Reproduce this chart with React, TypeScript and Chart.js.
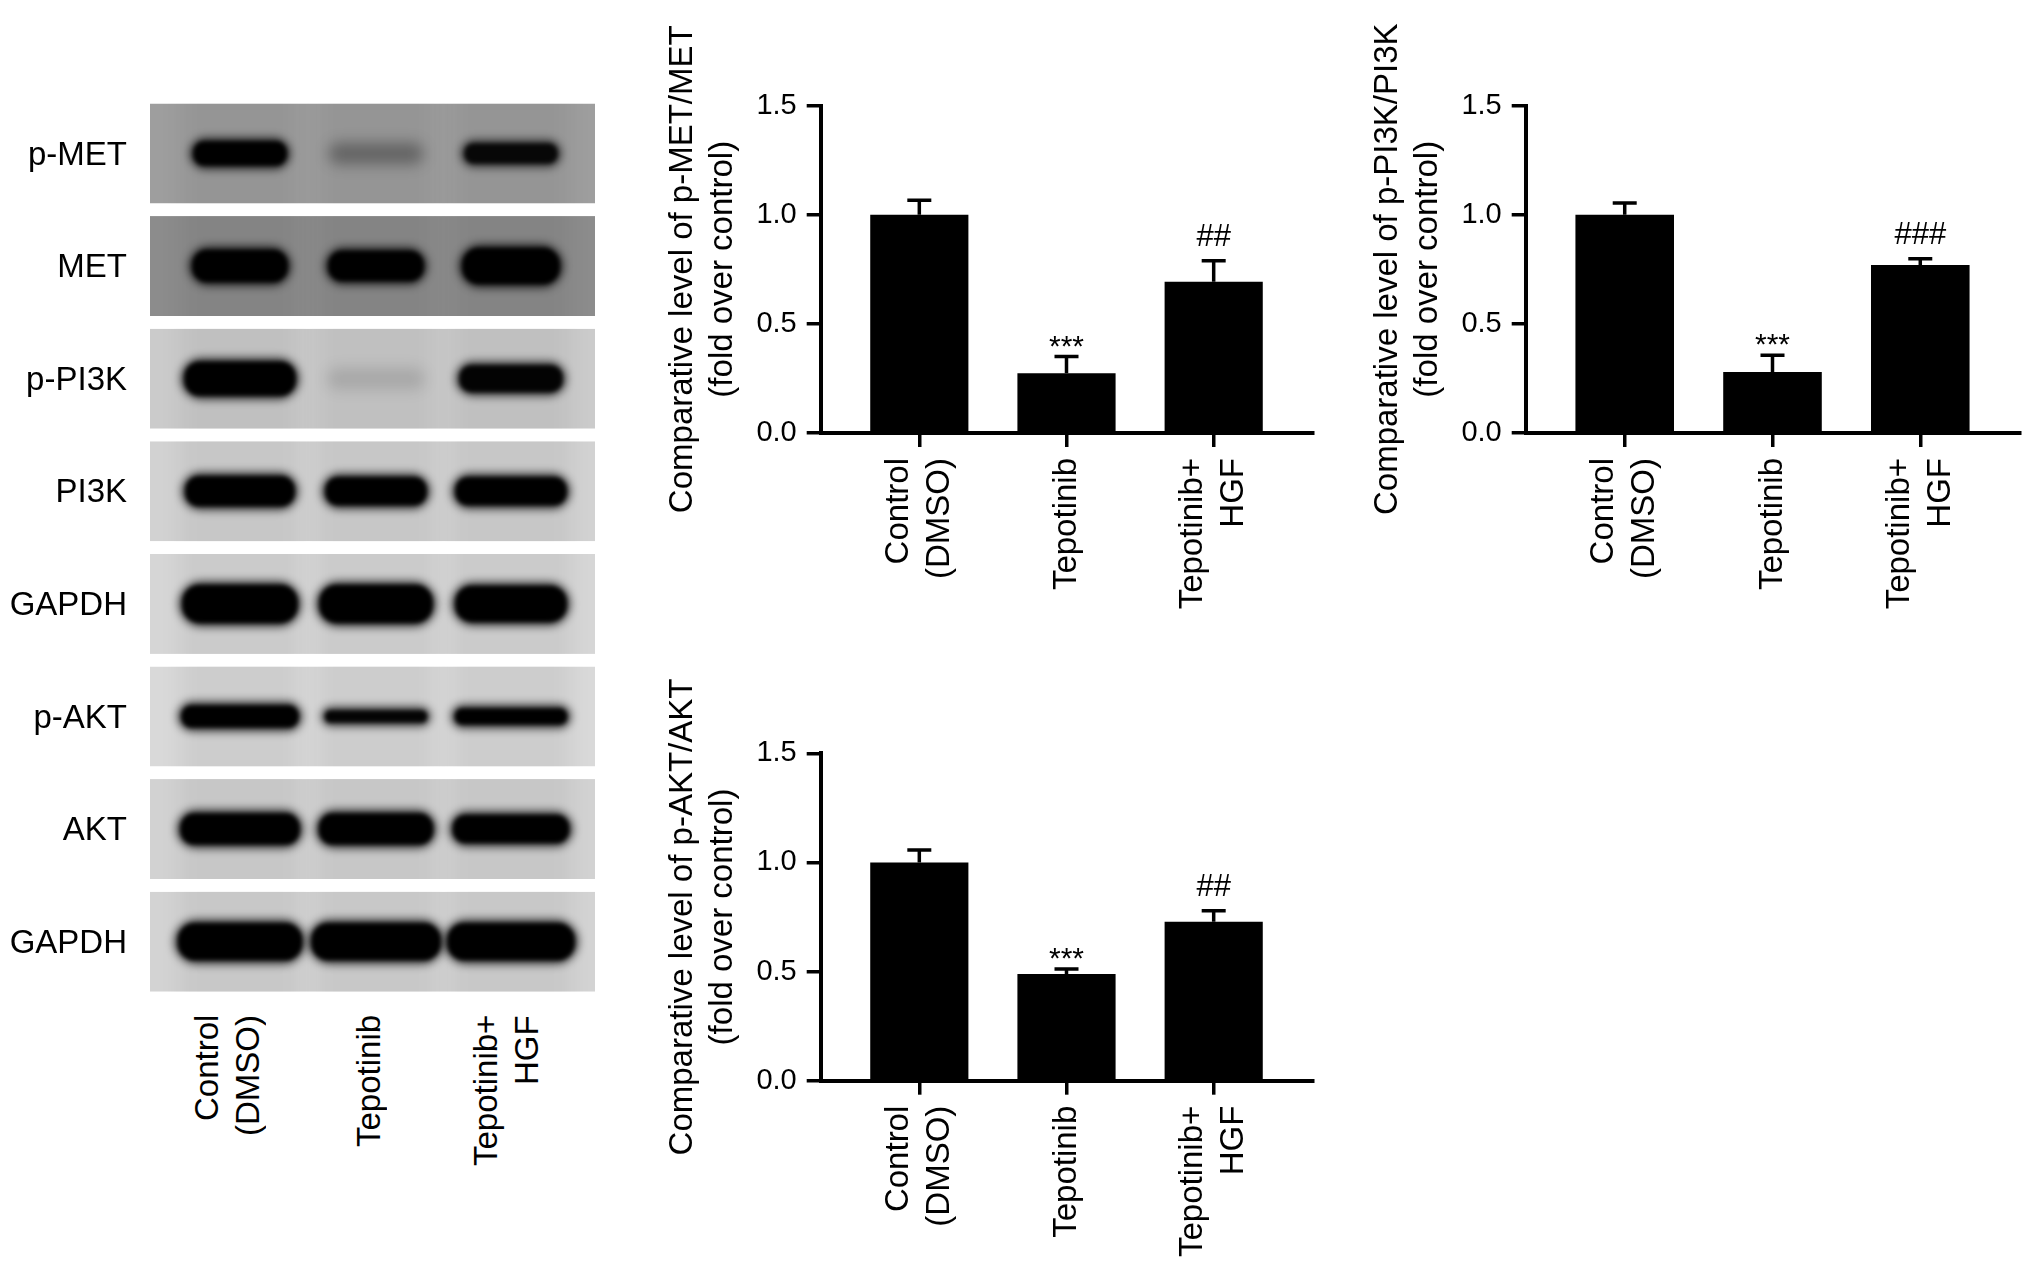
import React, { useEffect, useRef } from "react";
import { Chart, registerables } from "chart.js";

Chart.register(...registerables);

const FONT = '"Liberation Sans", Arial, Helvetica, sans-serif';

// ---------- data ----------
const CATEGORIES: string[][] = [["Control", "(DMSO)"], ["Tepotinib"], ["Tepotinib+", "HGF"]];
const Y_TICKS = [0, 0.5, 1.0, 1.5];

const TITLE_PMET = ["Comparative level of p-MET/MET", "(fold over control)"];
const PMET_MEAN = [1.0, 0.274, 0.693];
const PMET_SEM = [0.066, 0.076, 0.096];
const PMET_MARKS = ["", "***", "##"];

const TITLE_PPI3K = ["Comparative level of p-PI3K/PI3K", "(fold over control)"];
const PPI3K_MEAN = [1.0, 0.279, 0.77];
const PPI3K_SEM = [0.054, 0.077, 0.028];
const PPI3K_MARKS = ["", "***", "###"];

const TITLE_PAKT = ["Comparative level of p-AKT/AKT", "(fold over control)"];
const PAKT_MEAN = [1.0, 0.489, 0.728];
const PAKT_SEM = [0.057, 0.023, 0.051];
const PAKT_MARKS = ["", "***", "##"];

const BLOT_LABELS = ["p-MET", "MET", "p-PI3K", "PI3K", "GAPDH", "p-AKT", "AKT", "GAPDH"];
const BLOT_LEVELS = [
  [1, 0.32, 0.88],
  [1, 1, 1],
  [1, 0.12, 0.95],
  [1, 1, 1],
  [1, 1, 1],
  [1, 0.95, 1],
  [1, 1, 1],
  [1, 1, 1],
];

// ---------- styles ----------
const LABEL_SIZE = 33;
const LABEL_LH = 41;
const BLOT_BG = ["#9e9e9e", "#8c8c8c", "#cbcbcb", "#d2d2d2", "#d6d6d6", "#d9d9d9", "#d2d2d2", "#d3d3d3"];
const BAND_W = [
  [93, 87, 93],
  [95, 95, 97],
  [111, 90, 103],
  [109, 101, 111],
  [115, 113, 111],
  [117, 102, 112],
  [119, 114, 116],
  [124, 129, 127],
];
const BAND_H = [
  [24, 14, 20],
  [32, 30, 36],
  [34, 14, 27],
  [30, 28, 28],
  [38, 38, 36],
  [22, 12, 16],
  [31, 31, 28],
  [37, 37, 37],
];
const LANE_X = [240, 376, 511];
const LANE_LABEL_X = [227, 368, 506];
const PANEL_LEFT = 150;
const PANEL_RIGHT = 595;
const PANEL_TOP0 = 103.5;
const PANEL_STEP = 112.6;
const PANEL_H = 100;

type PanelProps = {
  left: number;
  top: number;
  width: number;
  height: number;
  padTop: number;
  areaBottom: number;
  padRight: number;
  yWidth: number;
  title: string[];
  means: number[];
  sems: number[];
  marks: string[];
};

function BarPanel(p: PanelProps) {
  const ref = useRef<HTMLCanvasElement>(null);
  useEffect(() => {
    const canvas = ref.current;
    if (!canvas) return;
    const errPlugin = {
      id: "errAndMarks",
      afterDatasetsDraw(chart: any) {
        const ctx = chart.ctx;
        const meta = chart.getDatasetMeta(0);
        const ys = chart.scales.y;
        ctx.save();
        ctx.strokeStyle = "#000";
        ctx.lineWidth = 3.5;
        meta.data.forEach((bar: any, i: number) => {
          const top = ys.getPixelForValue(p.means[i] + p.sems[i]);
          ctx.beginPath();
          ctx.moveTo(bar.x, bar.y);
          ctx.lineTo(bar.x, top);
          ctx.moveTo(bar.x - 12, top);
          ctx.lineTo(bar.x + 12, top);
          ctx.stroke();
          const mark = p.marks[i];
          if (mark) {
            const star = mark.charAt(0) === "*";
            ctx.font = `${star ? 30 : 31}px ${FONT}`;
            ctx.fillStyle = "#000";
            ctx.textAlign = "center";
            ctx.textBaseline = "alphabetic";
            ctx.fillText(mark, bar.x, top - (star ? 1 : 14.5));
          }
        });
        ctx.restore();
      },
    };
    const axisGrid = {
      display: true,
      drawOnChartArea: false,
      drawTicks: true,
      tickLength: 14,
      lineWidth: 3.5,
      color: "#000",
      offset: false,
    };
    const axisBorder = { display: true, width: 4, color: "#000" };
    const chart = new Chart(canvas, {
      type: "bar",
      data: {
        datasets: [
          {
            data: p.means.map((m, i) => ({ x: i, y: m })),
            backgroundColor: "#000",
            borderWidth: 0,
            barPercentage: 1,
            categoryPercentage: 0.667,
          } as any,
        ],
      },
      options: {
        animation: false,
        responsive: false,
        maintainAspectRatio: false,
        layout: { padding: { top: p.padTop, right: p.padRight, left: 0, bottom: 0 } },
        plugins: { legend: { display: false }, tooltip: { enabled: false } },
        scales: {
          x: {
            type: "linear",
            offset: false,
            min: -0.67,
            max: 2.67,
            afterBuildTicks: (s: any) => {
              s.ticks = CATEGORIES.map((_, i) => ({ value: i }));
            },
            afterFit: (s: any) => {
              s.height = p.height - p.areaBottom;
            },
            grid: axisGrid,
            border: axisBorder,
            ticks: {
              autoSkip: false,
              minRotation: 90,
              maxRotation: 90,
              padding: 11,
              labelOffset: -LABEL_LH / 2,
              color: "#000",
              font: (ctx: any) => {
                const c = CATEGORIES[ctx.index];
                const lh = c && c.length === 1 ? LABEL_LH / 2 : LABEL_LH;
                return { family: FONT, size: LABEL_SIZE, lineHeight: lh / LABEL_SIZE };
              },
              callback: (v: any) => {
                const lines = CATEGORIES[Number(v)] || [];
                return lines.length === 1 ? ["", lines[0]] : lines;
              },
            },
          } as any,
          y: {
            type: "linear",
            min: 0,
            max: 1.5,
            afterBuildTicks: (s: any) => {
              s.ticks = Y_TICKS.map((v) => ({ value: v }));
            },
            afterFit: (s: any) => {
              s.width = p.yWidth;
            },
            grid: axisGrid,
            border: axisBorder,
            ticks: {
              padding: 10,
              color: "#000",
              font: { family: FONT, size: 29 },
              callback: (v: any) => Number(v).toFixed(1),
            },
            title: {
              display: true,
              text: p.title,
              color: "#000",
              font: { family: FONT, size: 33, lineHeight: 1.22 },
              padding: { top: 23, bottom: 0 },
            },
          } as any,
        },
      },
      plugins: [errPlugin],
    });
    return () => chart.destroy();
  }, []);
  return (
    <canvas
      ref={ref}
      width={p.width}
      height={p.height}
      style={{ position: "absolute", left: p.left, top: p.top, width: p.width, height: p.height }}
    />
  );
}

function Blot() {
  const ref = useRef<HTMLCanvasElement>(null);
  useEffect(() => {
    const canvas = ref.current;
    if (!canvas) return;
    const ctx = canvas.getContext("2d") as CanvasRenderingContext2D;
    ctx.clearRect(0, 0, canvas.width, canvas.height);
    BLOT_LABELS.forEach((_, r) => {
      const top = PANEL_TOP0 + r * PANEL_STEP;
      const w = PANEL_RIGHT - PANEL_LEFT;
      ctx.save();
      ctx.beginPath();
      ctx.rect(PANEL_LEFT, top, w, PANEL_H);
      ctx.clip();
      ctx.fillStyle = BLOT_BG[r];
      ctx.fillRect(PANEL_LEFT, top, w, PANEL_H);
      LANE_X.forEach((cx) => {
        ctx.save();
        ctx.filter = "blur(10px)";
        ctx.fillStyle = "rgba(0,0,0,0.05)";
        ctx.fillRect(cx - 60, top - 20, 120, PANEL_H + 40);
        ctx.restore();
      });
      LANE_X.forEach((cx, l) => {
        const lvl = BLOT_LEVELS[r][l];
        const bw = BAND_W[r][l];
        const bh = BAND_H[r][l];
        const cy = top + PANEL_H / 2;
        ctx.save();
        ctx.filter = `blur(${lvl < 0.5 ? 7 : 4}px)`;
        ctx.fillStyle = `rgba(0,0,0,${lvl < 0.5 ? lvl : Math.min(1, lvl * 0.7)})`;
        ctx.beginPath();
        (ctx as any).roundRect(cx - bw / 2 - 4, cy - bh / 2 - 4, bw + 8, bh + 8, (bh + 8) / 2);
        ctx.fill();
        if (lvl >= 0.5) {
          ctx.filter = "blur(2px)";
          ctx.fillStyle = `rgba(0,0,0,${lvl})`;
          ctx.beginPath();
          (ctx as any).roundRect(cx - bw / 2, cy - bh / 2, bw, bh, bh / 2.2);
          ctx.fill();
        }
        ctx.restore();
      });
      ctx.restore();
    });
  }, []);
  return (
    <>
      <canvas
        ref={ref}
        width={620}
        height={1010}
        style={{ position: "absolute", left: 0, top: 0, width: 620, height: 1010 }}
      />
      {BLOT_LABELS.map((name, r) => (
        <div
          key={"bl" + r}
          style={{
            position: "absolute",
            left: 0,
            width: 127,
            top: PANEL_TOP0 + r * PANEL_STEP,
            height: PANEL_H,
            lineHeight: PANEL_H + "px",
            textAlign: "right",
            fontSize: LABEL_SIZE,
            whiteSpace: "nowrap",
          }}
        >
          {name}
        </div>
      ))}
      {CATEGORIES.map((lines, i) => (
        <div
          key={"ll" + i}
          style={{
            position: "absolute",
            left: LANE_LABEL_X[i] - (lines.length * LABEL_LH) / 2,
            top: 1015,
            width: lines.length * LABEL_LH,
            height: 200,
            writingMode: "vertical-rl",
            transform: "rotate(180deg)",
            textAlign: "end",
            fontSize: LABEL_SIZE,
            lineHeight: LABEL_LH + "px",
            whiteSpace: "nowrap",
          }}
        >
          {lines.map((t, j) => (
            <div key={j}>{t}</div>
          ))}
        </div>
      ))}
    </>
  );
}

export default function App() {
  return (
    <div
      style={{
        position: "absolute",
        left: 0,
        top: 0,
        width: 2032,
        height: 1280,
        background: "#fff",
        overflow: "hidden",
        fontFamily: FONT,
        color: "#000",
      }}
    >
      <Blot />
      <BarPanel
        left={640}
        top={0}
        width={690}
        height={640}
        padTop={105.5}
        areaBottom={433}
        padRight={17.7}
        yWidth={180.7}
        title={TITLE_PMET}
        means={PMET_MEAN}
        sems={PMET_SEM}
        marks={PMET_MARKS}
      />
      <BarPanel
        left={1345}
        top={0}
        width={687}
        height={640}
        padTop={105.5}
        areaBottom={433}
        padRight={12.7}
        yWidth={180.7}
        title={TITLE_PPI3K}
        means={PPI3K_MEAN}
        sems={PPI3K_SEM}
        marks={PPI3K_MARKS}
      />
      <BarPanel
        left={640}
        top={640}
        width={690}
        height={640}
        padTop={113.3}
        areaBottom={440.7}
        padRight={17.7}
        yWidth={180.7}
        title={TITLE_PAKT}
        means={PAKT_MEAN}
        sems={PAKT_SEM}
        marks={PAKT_MARKS}
      />
    </div>
  );
}
